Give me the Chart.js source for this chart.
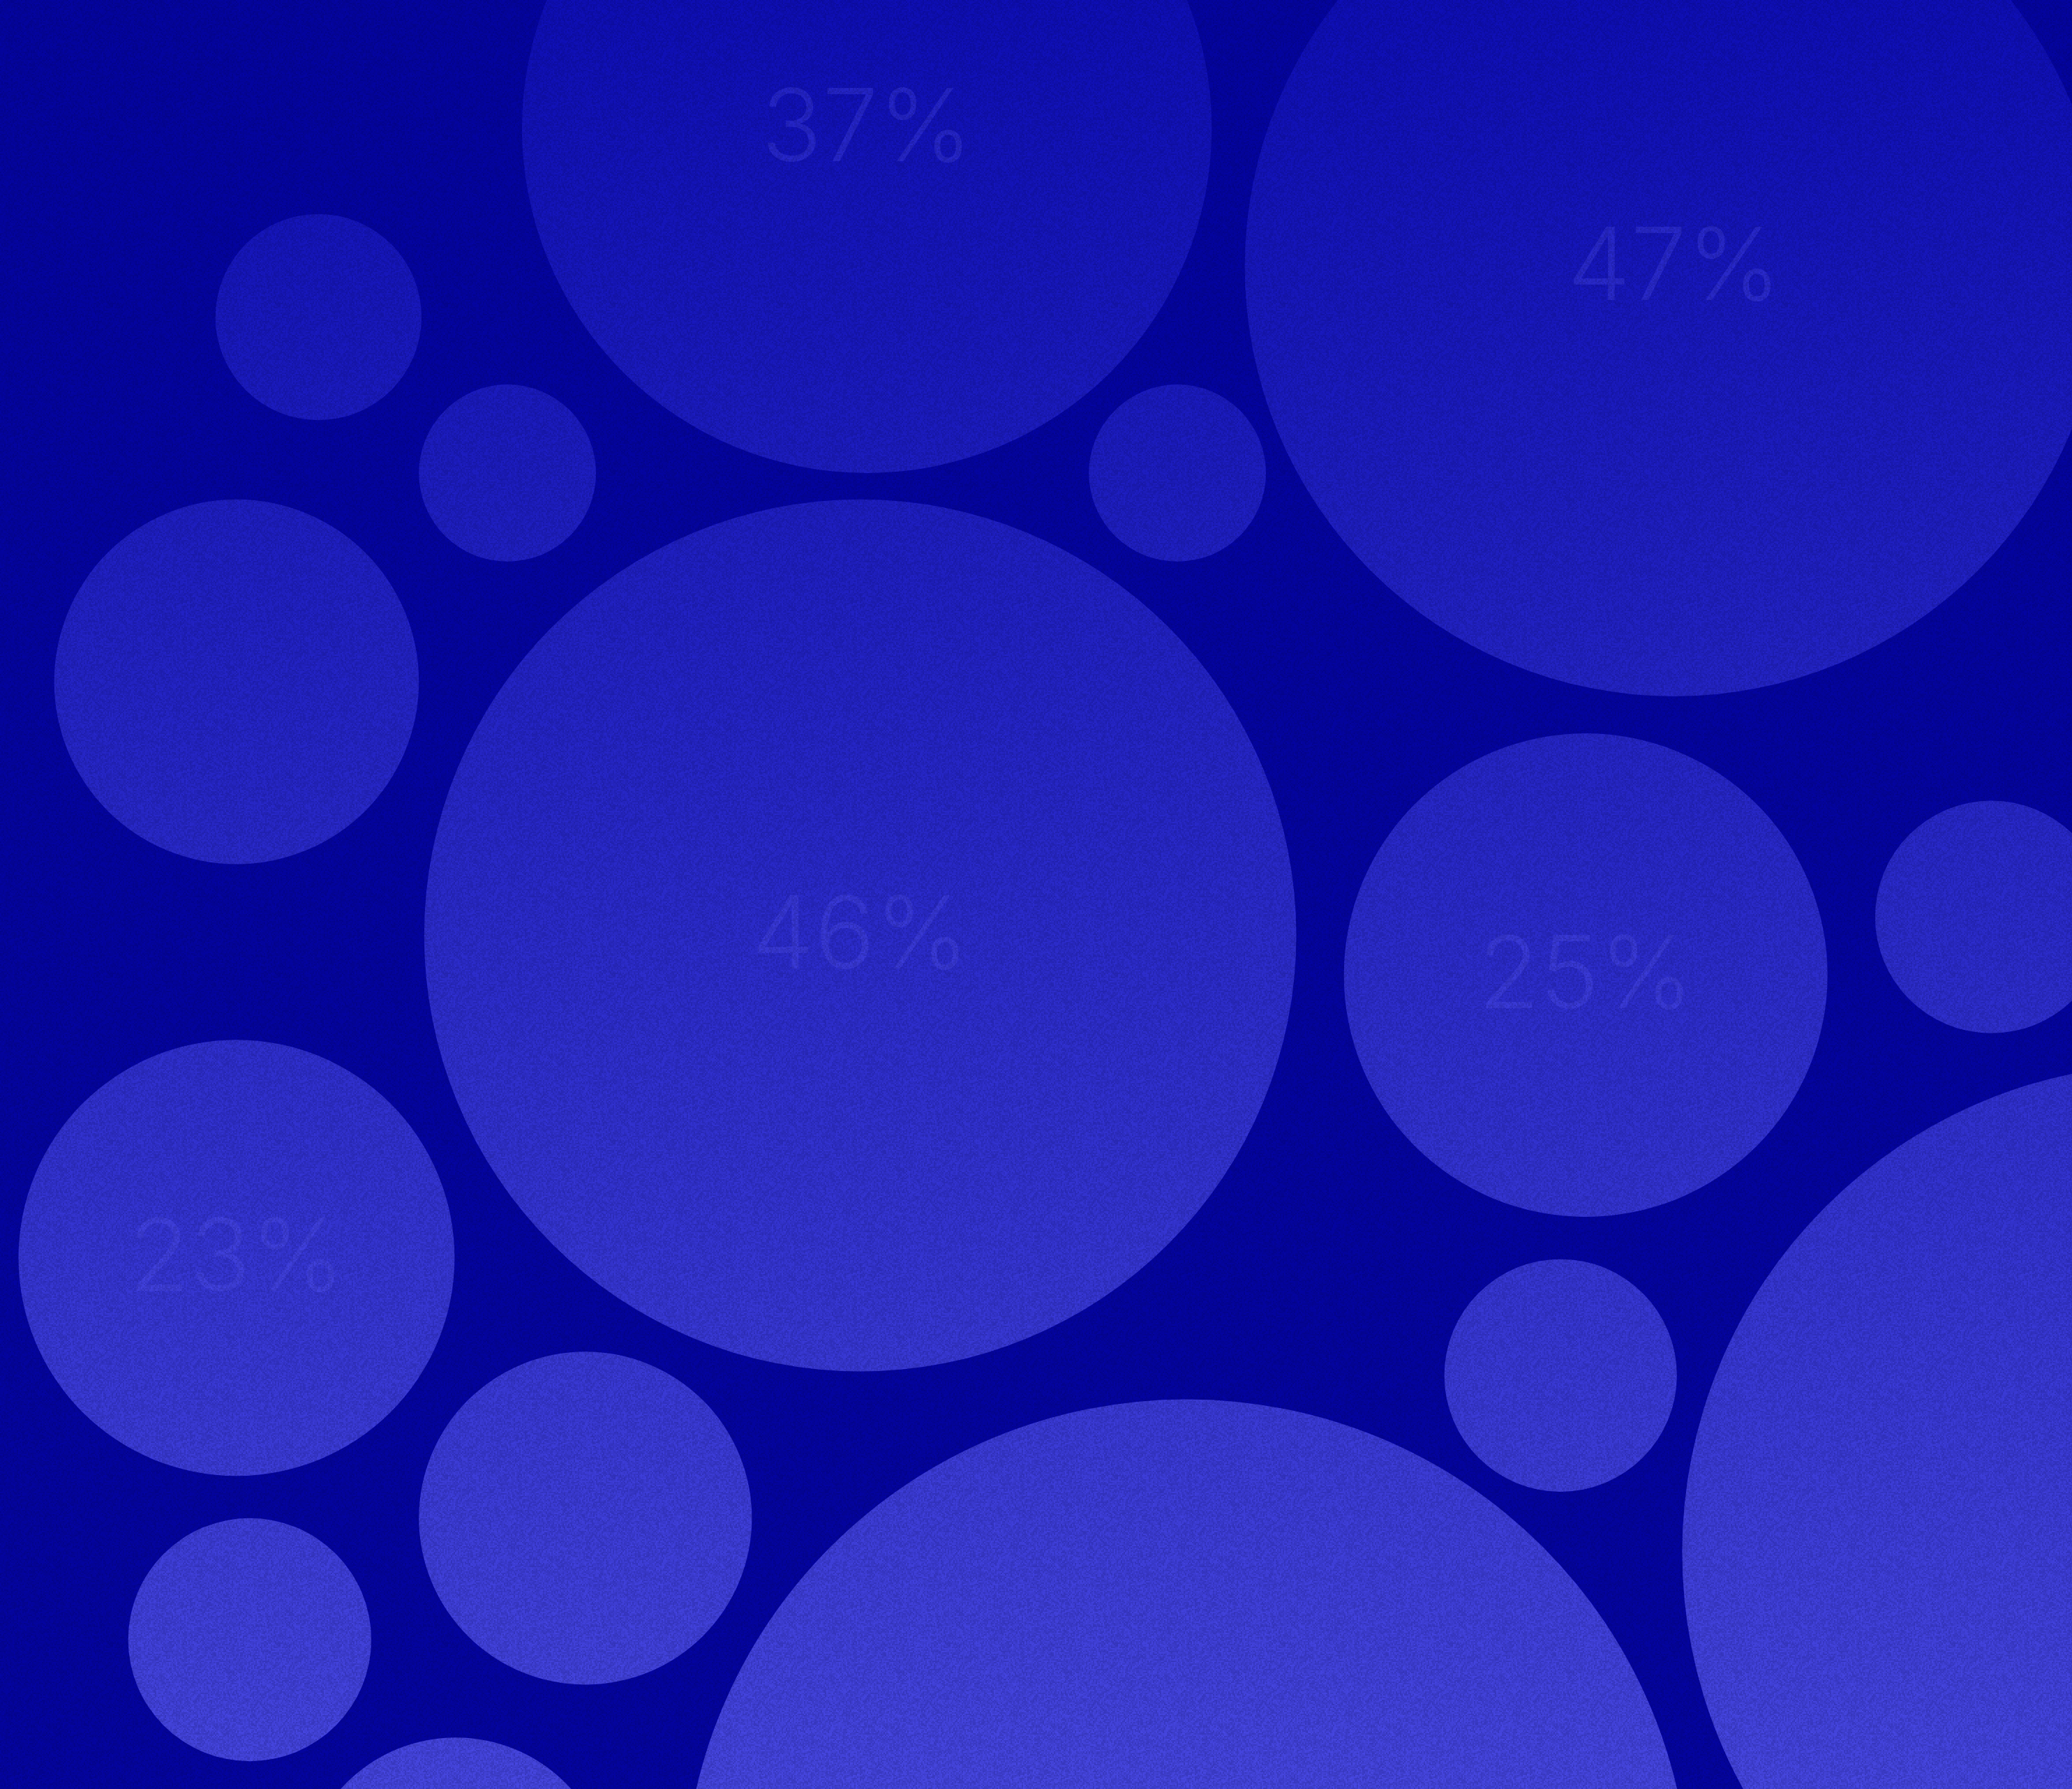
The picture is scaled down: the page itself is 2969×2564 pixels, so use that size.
<!DOCTYPE html>
<html>
<head>
<meta charset="utf-8">
<script src="https://cdn.jsdelivr.net/npm/chart.js@4"></script>
<style>
  html, body { margin: 0; padding: 0; background: #0505a2; overflow: hidden; }
  #wrap { position: relative; width: 2969px; height: 2564px; }
</style>
</head>
<body>
<div id="wrap"><canvas id="bubbles"></canvas></div>
<script>
// positions / sizes (units of a 1568 x 1354 grid)
const names = ["b1", "b2", "b3", "b4", "b5", "b6", "b7", "b8", "b9", "b10", "b11", "b12", "b13", "b14", "b15", "b16"];
const xVals = [656, 1267, 241, 384, 891, 179, 651, 1200, 1507, 179, 443, 1181, 189, 898, 1643, 345];
const yVals = [97, 202, 240, 358, 358, 516, 708, 738, 694, 952, 1149, 1041, 1241, 1440, 1175, 1432];
const sizes = [261, 325, 78, 67, 67, 138, 330, 183, 88, 165, 126, 88, 92, 381, 370, 117];
const pctLabels = ["37%", "47%", null, null, null, null, "46%", "25%", null, "23%", null, null, null, null, null, null];

const X_MAX = 1568;
const Y_MAX = 1354;

// bubble radius is in pixels, so convert the size units with the canvas width
const pxPerUnit = document.getElementById("wrap").clientWidth / X_MAX;

function vGradient(chart, top, bottom) {
  const g = chart.ctx.createLinearGradient(0, 0, 0, chart.height || 2564);
  g.addColorStop(0, top);
  g.addColorStop(1, bottom);
  return g;
}

// fine grain over everything (fixed hash, not random)
function grainPattern(ctx) {
  const tile = document.createElement("canvas");
  tile.width = 240;
  tile.height = 240;
  const t = tile.getContext("2d");
  for (let yy = 0; yy < 240; yy += 2) {
    for (let xx = 0; xx < 240; xx += 2) {
      let v = Math.sin(xx * 12.9898 + yy * 78.233) * 43758.5453;
      v = v - Math.floor(v);
      t.fillStyle = "rgba(0, 0, 60, " + (v * 0.22).toFixed(3) + ")";
      t.fillRect(xx, yy, 2, 2);
    }
  }
  return ctx.createPattern(tile, "repeat");
}

const grain = {
  id: "grain",
  afterDraw(chart) {
    const { ctx } = chart;
    ctx.save();
    ctx.fillStyle = grainPattern(ctx);
    ctx.fillRect(0, 0, chart.width, chart.height);
    ctx.restore();
  }
};

// draws the percentage text in the middle of each labelled bubble
const centerLabels = {
  id: "centerLabels",
  afterDatasetsDraw(chart) {
    const { ctx } = chart;
    const meta = chart.getDatasetMeta(0);
    const fontPx = Math.round(76 * pxPerUnit);
    ctx.save();
    ctx.font = "300 " + fontPx + "px Inter, 'Noto Sans', sans-serif";
    ctx.textAlign = "center";
    ctx.textBaseline = "middle";
    ctx.fillStyle = "rgba(100, 100, 255, 0.24)";
    meta.data.forEach((pt, i) => {
      if (!pctLabels[i]) return;
      ctx.fillText(pctLabels[i], pt.x, pt.y + 4);
    });
    ctx.restore();
  }
};

const ctx = document.getElementById("bubbles").getContext("2d");
new Chart(ctx, {
  type: "bubble",
  data: {
    labels: names,
    datasets: [{
      data: xVals.map((x, i) => ({ x: x, y: yVals[i], r: sizes[i] * pxPerUnit })),
      clip: 0,
      hoverRadius: 0,
      borderWidth: 0,
      hoverBorderWidth: 0,
      backgroundColor: (c) => vGradient(c.chart, "#0f0fb8", "#4848e2")
    }]
  },
  options: {
    responsive: true,
    maintainAspectRatio: false,
    devicePixelRatio: 1,
    animation: false,
    events: [],
    layout: { padding: 0, autoPadding: false },
    plugins: {
      legend: { display: false },
      tooltip: { enabled: false }
    },
    scales: {
      x: { type: "linear", min: 0, max: X_MAX, display: false },
      y: { type: "linear", min: 0, max: Y_MAX, reverse: true, display: false }
    }
  },
  plugins: [centerLabels, grain]
});
</script>
</body>
</html>
